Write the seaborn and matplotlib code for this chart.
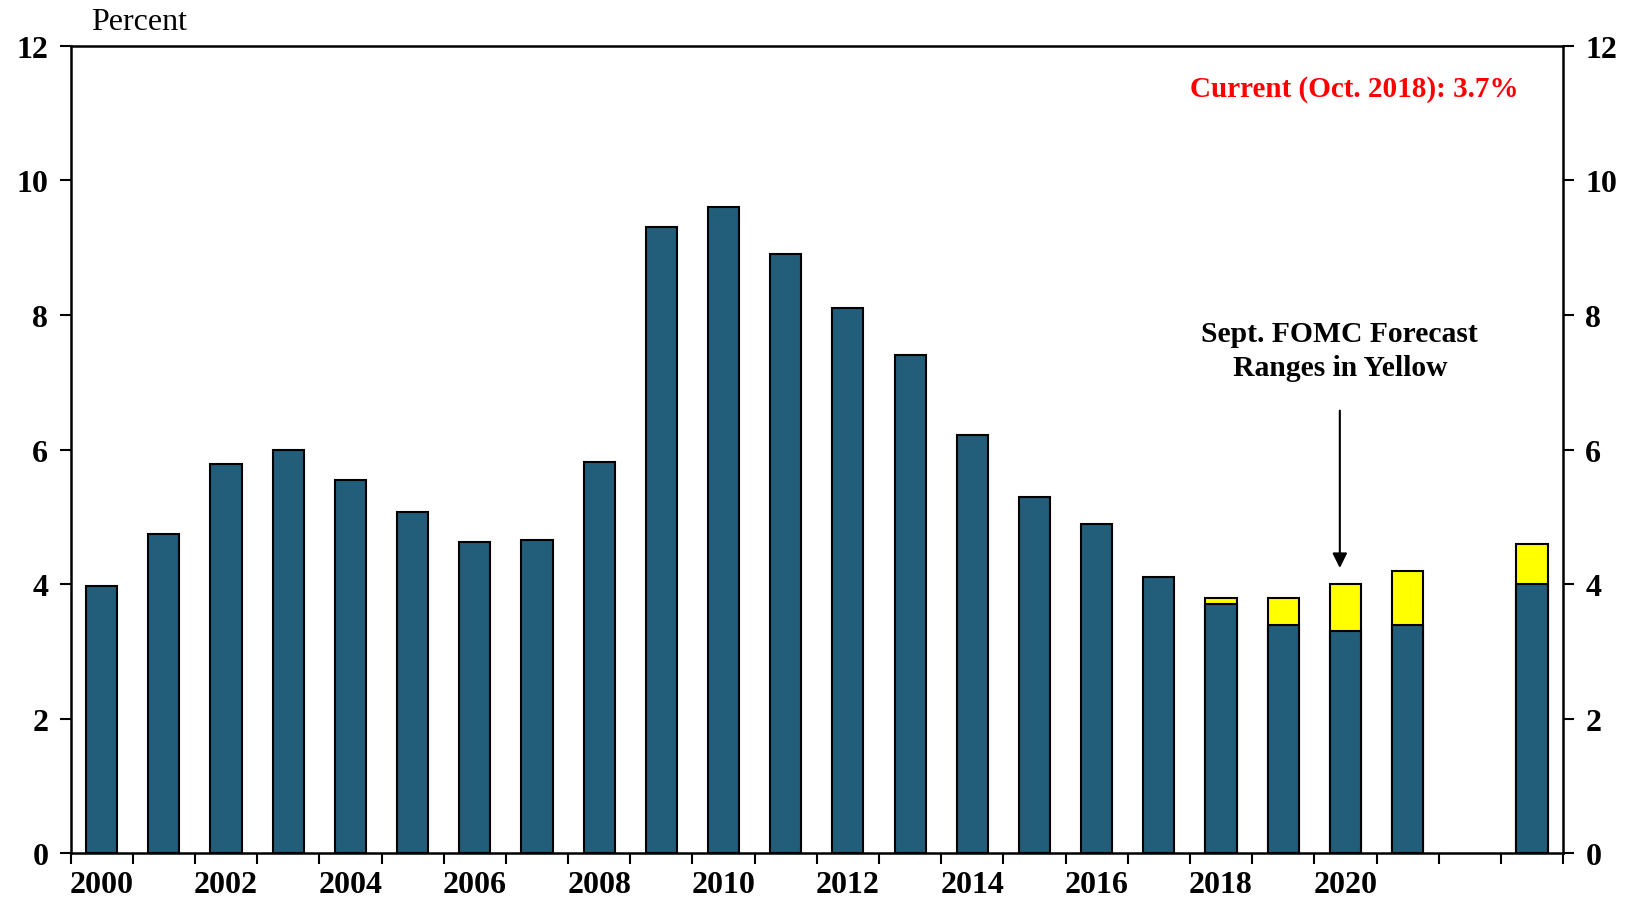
import pandas as pd
import matplotlib.pyplot as plt
import seaborn as sns

# --- data ---
slots = [str(y) for y in range(2000, 2022)] + [" ", "LR"]
hist_years = [str(y) for y in range(2000, 2018)]
hist_rate = [3.97, 4.75, 5.78, 5.99, 5.55, 5.08, 4.62, 4.65, 5.81, 9.31,
             9.60, 8.90, 8.10, 7.41, 6.21, 5.30, 4.90, 4.11]
fc_slots = ["2018", "2019", "2020", "2021", "LR"]
fc_low = [3.7, 3.4, 3.3, 3.4, 4.0]
fc_high = [3.8, 3.8, 4.0, 4.2, 4.6]
tick_labels = [str(y) if y % 2 == 0 else "" for y in range(2000, 2022)] + ["", ""]

blue = "#225D79"
yellow = "#FFFF00"

df_low = pd.DataFrame({"slot": hist_years + fc_slots, "rate": hist_rate + fc_low})
df_high = pd.DataFrame({"slot": fc_slots, "rate": fc_high})

sns.set_style("white")
plt.rcParams["font.family"] = ["Liberation Serif", "DejaVu Serif"]
plt.rcParams["text.color"] = "black"
plt.rcParams["xtick.color"] = "black"
plt.rcParams["ytick.color"] = "black"

fig = plt.figure(figsize=(16.26, 9.04), dpi=100)
ax = fig.add_axes([0.0434, 0.0548, 0.9179, 0.8935])

# yellow forecast ranges first, then the blue lower part over them
sns.barplot(data=df_high, x="slot", y="rate", order=slots, color=yellow,
            width=0.5, edgecolor="black", linewidth=1.5, saturation=1, ax=ax)
sns.barplot(data=df_low, x="slot", y="rate", order=slots, color=blue,
            width=0.5, edgecolor="black", linewidth=1.5, saturation=1, ax=ax)

ax.set_xlim(-0.5, len(slots) - 0.5)
ax.set_ylim(0, 12)
ax.set_yticks(range(0, 13, 2))
ax.set_xlabel("")
ax.set_ylabel("")

# ticks at slot boundaries, labels under bars
ax.set_xticks([i - 0.5 for i in range(len(slots) + 1)])
ax.set_xticklabels([])
ax.set_xticks(range(len(slots)), minor=True)
ax.set_xticklabels(tick_labels, minor=True, fontsize=23, fontweight="bold")
ax.tick_params(axis="x", which="major", direction="out", length=8, width=1.5, bottom=True)
ax.tick_params(axis="x", which="minor", length=0, pad=12)
ax.tick_params(axis="y", direction="out", length=8, width=1.5, left=True, right=True,
               labelright=True, labelsize=23, pad=8)
for lab in ax.get_yticklabels():
    lab.set_fontweight("bold")

for s in ["left", "right", "top", "bottom"]:
    ax.spines[s].set_visible(True)
    ax.spines[s].set_color("black")
    ax.spines[s].set_linewidth(1.8)

fig.text(91 / 1626, 1 - 23 / 904, "Percent", fontsize=23, va="center", ha="left")
ax.text(0.9705, 0.9476, "Current (Oct. 2018): 3.7%", transform=ax.transAxes,
        color="red", fontsize=21, fontweight="bold", ha="right", va="center")
ax.text(19.91, 7.47, "Sept. FOMC Forecast\nRanges in Yellow", fontsize=21.3,
        fontweight="bold", ha="center", va="center", linespacing=1.35)
ax.annotate("", xy=(19.91, 4.2), xytext=(19.91, 6.62),
            arrowprops=dict(arrowstyle="-|>", color="black", lw=1.5, mutation_scale=22))

plt.savefig("out.png", dpi=100)
